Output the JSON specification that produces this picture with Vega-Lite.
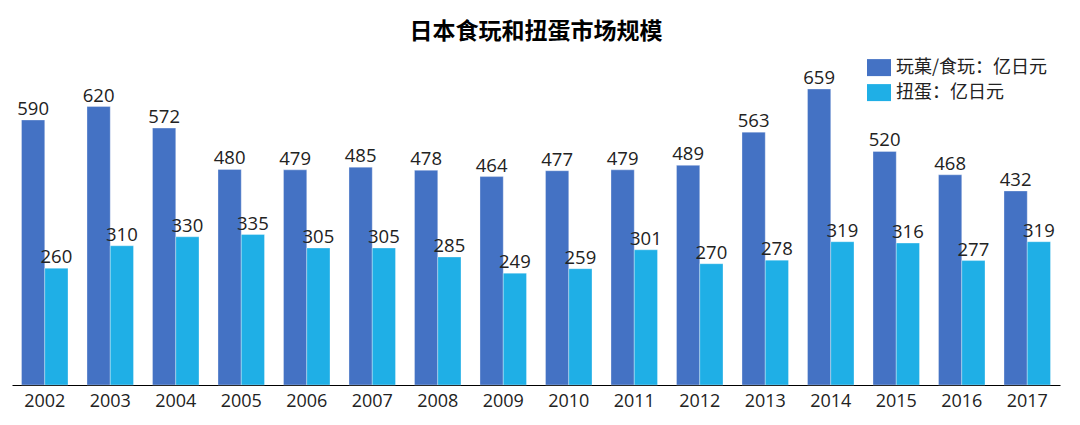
{
  "$schema": "https://vega.github.io/schema/vega-lite/v6.json",
  "autosize": {"type": "none"},
  "width": 1048,
  "height": 314.4,
  "padding": {"left": 12, "top": 70.6, "right": 20, "bottom": 40},
  "background": "white",
  "title": {
    "text": "日本食玩和扭蛋市场规模",
    "font": "Noto Sans CJK SC",
    "fontSize": 23,
    "fontWeight": "bold",
    "color": "#000000",
    "anchor": "middle",
    "offset": 14
  },
  "config": {"view": {"stroke": null}},
  "data": {
    "values": [
      {"year": "2002", "series": "玩菓/食玩：亿日元", "value": 590},
      {"year": "2002", "series": "扭蛋：亿日元", "value": 260},
      {"year": "2003", "series": "玩菓/食玩：亿日元", "value": 620},
      {"year": "2003", "series": "扭蛋：亿日元", "value": 310},
      {"year": "2004", "series": "玩菓/食玩：亿日元", "value": 572},
      {"year": "2004", "series": "扭蛋：亿日元", "value": 330},
      {"year": "2005", "series": "玩菓/食玩：亿日元", "value": 480},
      {"year": "2005", "series": "扭蛋：亿日元", "value": 335},
      {"year": "2006", "series": "玩菓/食玩：亿日元", "value": 479},
      {"year": "2006", "series": "扭蛋：亿日元", "value": 305},
      {"year": "2007", "series": "玩菓/食玩：亿日元", "value": 485},
      {"year": "2007", "series": "扭蛋：亿日元", "value": 305},
      {"year": "2008", "series": "玩菓/食玩：亿日元", "value": 478},
      {"year": "2008", "series": "扭蛋：亿日元", "value": 285},
      {"year": "2009", "series": "玩菓/食玩：亿日元", "value": 464},
      {"year": "2009", "series": "扭蛋：亿日元", "value": 249},
      {"year": "2010", "series": "玩菓/食玩：亿日元", "value": 477},
      {"year": "2010", "series": "扭蛋：亿日元", "value": 259},
      {"year": "2011", "series": "玩菓/食玩：亿日元", "value": 479},
      {"year": "2011", "series": "扭蛋：亿日元", "value": 301},
      {"year": "2012", "series": "玩菓/食玩：亿日元", "value": 489},
      {"year": "2012", "series": "扭蛋：亿日元", "value": 270},
      {"year": "2013", "series": "玩菓/食玩：亿日元", "value": 563},
      {"year": "2013", "series": "扭蛋：亿日元", "value": 278},
      {"year": "2014", "series": "玩菓/食玩：亿日元", "value": 659},
      {"year": "2014", "series": "扭蛋：亿日元", "value": 319},
      {"year": "2015", "series": "玩菓/食玩：亿日元", "value": 520},
      {"year": "2015", "series": "扭蛋：亿日元", "value": 316},
      {"year": "2016", "series": "玩菓/食玩：亿日元", "value": 468},
      {"year": "2016", "series": "扭蛋：亿日元", "value": 277},
      {"year": "2017", "series": "玩菓/食玩：亿日元", "value": 432},
      {"year": "2017", "series": "扭蛋：亿日元", "value": 319}
    ]
  },
  "encoding": {
    "x": {
      "field": "year",
      "type": "nominal",
      "scale": {"paddingInner": 0.29, "paddingOuter": 0.145},
      "axis": {
        "title": null,
        "labelAngle": 0,
        "labelFont": "Open Sans",
        "labelFontSize": 18,
        "labelColor": "#222222",
        "labelPadding": 7,
        "ticks": false,
        "domainColor": "#000000",
        "domainWidth": 1.2
      }
    },
    "xOffset": {
      "field": "series",
      "type": "nominal",
      "sort": ["玩菓/食玩：亿日元", "扭蛋：亿日元"],
      "scale": {"paddingInner": 0, "paddingOuter": 0}
    },
    "y": {
      "field": "value",
      "type": "quantitative",
      "scale": {"domain": [0, 700]},
      "axis": null
    }
  },
  "layer": [
    {
      "mark": {"type": "bar", "stroke": "#ffffff", "strokeWidth": 0.8, "strokeOpacity": 0.4},
      "encoding": {
        "color": {
          "field": "series",
          "type": "nominal",
          "sort": ["玩菓/食玩：亿日元", "扭蛋：亿日元"],
          "scale": {"domain": ["玩菓/食玩：亿日元", "扭蛋：亿日元"], "range": ["#4472C4", "#1FAFE6"]},
          "legend": {
            "title": null,
            "orient": "none",
            "legendX": 857,
            "legendY": -13,
            "symbolType": "M-1.2,-0.85H1.2V0.85H-1.2Z",
            "symbolSize": 400,
            "symbolStrokeWidth": 0,
            "symbolOpacity": 1,
            "labelFont": "Noto Sans CJK SC",
            "labelFontSize": 18,
            "labelColor": "#222222",
            "labelOffset": 7,
            "rowPadding": 6,
            "labelLimit": 300
          }
        }
      }
    },
    {
      "mark": {"type": "text", "baseline": "alphabetic", "dy": -5, "font": "Open Sans", "fontSize": 18.5, "color": "#222222"},
      "encoding": {
        "text": {"field": "value", "type": "quantitative"}
      }
    }
  ]
}
